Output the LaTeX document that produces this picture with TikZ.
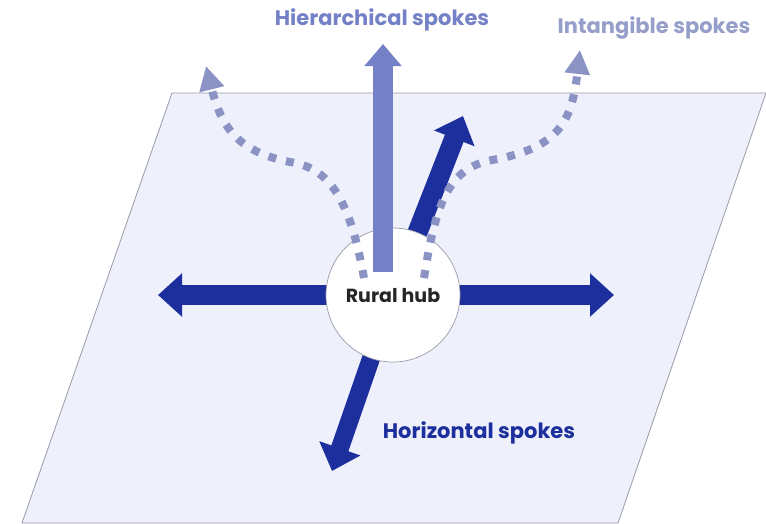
\documentclass[tikz,border=0pt]{standalone}
\usepackage{fontspec}
\setmainfont{Poppins}
\usepackage{tikz}
\usetikzlibrary{arrows.meta, positioning, calc}
\definecolor{hubdark}{HTML}{1c2f9c}
\definecolor{hubmid}{HTML}{7581c6}
\definecolor{hubdots}{HTML}{8a93c4}
\definecolor{hubplane}{HTML}{eef0fb}
\definecolor{hubedge}{HTML}{9a9aa8}

\begin{document}
\begin{tikzpicture}[
    x=1pt, y=-1pt,
    plane/.style={fill=hubplane, draw=hubedge, line width=0.8pt},
    hub/.style={circle, draw=hubedge, fill=white, line width=0.7pt, minimum size=134pt, inner sep=0pt},
    horiz/.style={line width=20pt, hubdark, -{Triangle[width=42pt, length=24pt]}},
    hier/.style={line width=20pt, hubmid, -{Triangle[width=36pt, length=22pt]}},
    intang/.style={line width=8pt, hubdots, dash pattern=on 8pt off 10pt, -{Triangle[width=24pt, length=24pt]}},
    label/.style={font=\fontsize{21}{24}\selectfont\bfseries, inner sep=0pt}
]
\useasboundingbox (0,0) rectangle (766,523);

\draw[plane] (172,93) -- (766,93) -- (618,523) -- (22,523) -- cycle;

\coordinate (c) at (393,295);
\coordinate (wtip) at (158,295);
\coordinate (etip) at (614,295);
\coordinate (netip) at (463,116);
\coordinate (stip) at (332,471);

\draw[horiz] (c) -- (wtip);
\draw[horiz] (c) -- (etip);
\draw[horiz] (c) -- (netip);
\draw[horiz, line width=18pt] (c) -- (stip);

\node[hub] (hub) at (c) {};

\coordinate (nbase) at (383,272);
\coordinate (ntip) at (383,44);
\draw[hier] (nbase) -- (ntip);

\coordinate (lbase) at (364,278);
\coordinate (ltip) at (206,66);
\coordinate (rbase) at (424,278);
\coordinate (rtip) at (580,50);
\draw[intang] (lbase) .. controls (350,200) and (330,168) .. (290,162)
    .. controls (240,152) and (222,130) .. (ltip);
\draw[intang] (rbase) .. controls (436,200) and (450,168) .. (492,160)
    .. controls (560,148) and (572,120) .. (rtip);

\node[label, text=black!85, font=\fontsize{19}{22}\selectfont\bfseries] (hubtxt) at (393,296) {Rural hub};
\node[label, text=hubmid] (hierlbl) at (382,20) {Hierarchical spokes};
\node[label, text=hubdots!90!white] (intlbl) at (654,28) {Intangible spokes};
\node[label, text=hubdark] (horlbl) at (479,433) {Horizontal spokes};
\end{tikzpicture}
\end{document}
